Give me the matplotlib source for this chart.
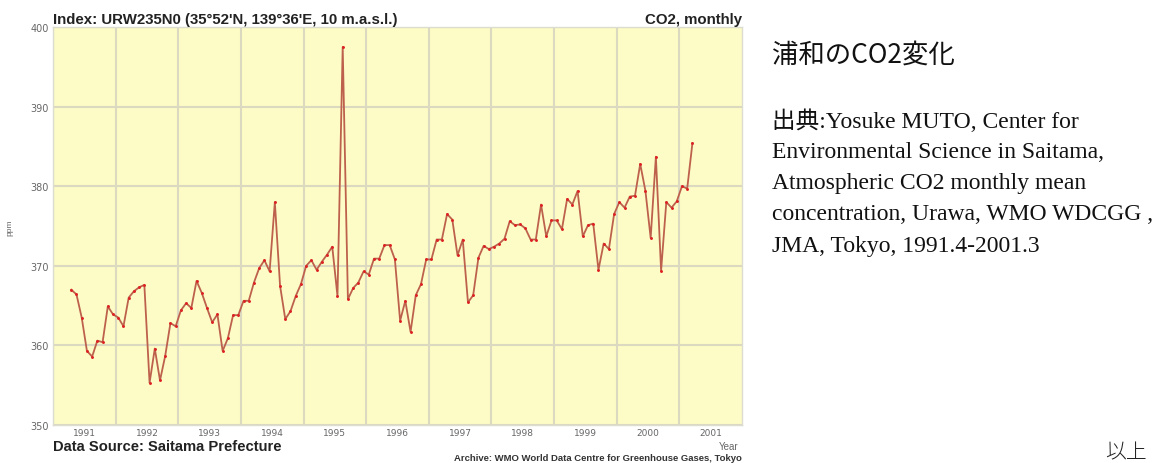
import numpy as np
import pandas as pd
from matplotlib import pyplot as plt
from matplotlib.ticker import FixedLocator, NullFormatter

# monthly CO2 at Urawa, 1991.4 - 2001.3
start_month = '1991-04'
co2_ppm = [
    367.0, 366.4, 363.5, 359.3, 358.6, 360.6, 360.4, 364.9, 363.9,  # 1991
    363.5, 362.4, 366.0, 366.8, 367.3, 367.6, 355.3, 359.6, 355.6, 358.7, 362.8, 362.4,  # 1992
    364.4, 365.3, 364.7, 368.1, 366.6, 364.7, 362.9, 363.9, 359.3, 360.9, 363.8, 363.8,  # 1993
    365.6, 365.6, 367.9, 369.7, 370.7, 369.3, 378.0, 367.5, 363.3, 364.3, 366.2, 367.7,  # 1994
    370.0, 370.7, 369.5, 370.5, 371.4, 372.4, 366.2, 397.5, 365.8, 367.2, 367.9, 369.3,  # 1995
    368.9, 370.9, 370.9, 372.6, 372.6, 370.8, 363.1, 365.6, 361.7, 366.3, 367.7, 370.8,  # 1996
    370.8, 373.3, 373.3, 376.5, 375.8, 371.3, 373.3, 365.4, 366.3, 371.0, 372.5, 372.1,  # 1997
    372.4, 372.8, 373.4, 375.6, 375.1, 375.2, 374.7, 373.3, 373.3, 377.7, 373.7, 375.7,  # 1998
    375.7, 374.6, 378.4, 377.7, 379.4, 373.7, 375.1, 375.3, 369.5, 372.8, 372.1, 376.5,  # 1999
    378.0, 377.3, 378.7, 378.8, 382.8, 379.4, 373.5, 383.7, 369.4, 378.0, 377.3, 378.1,  # 2000
    380.0, 379.7, 385.4,  # 2001
]
years = list(range(1991, 2002))
y_ticks = [350, 360, 370, 380, 390, 400]

months = pd.date_range(start_month, periods=len(co2_ppm), freq='MS')
t = months.year + (months.month - 0.5) / 12

W, H = 1167, 464
fig = plt.figure(figsize=(W / 100, H / 100), dpi=100)
fig.patch.set_facecolor('white')

left, right, top, bottom = 53, 742, 28, 426
ax = fig.add_axes([left / W, 1 - bottom / H, (right - left) / W, (bottom - top) / H])
ax.set_facecolor('#fdfcc6')

ax.plot(t, co2_ppm, color='#bd614d', linewidth=1.3, zorder=3)
ax.plot(t, co2_ppm, linestyle='none', marker='o', markersize=1.1,
        color='#dd2222', zorder=4)

ax.set_xlim(years[0], years[-1] + 1)
ax.set_ylim(y_ticks[0], y_ticks[-1])

ax.xaxis.set_major_locator(FixedLocator(years))
ax.xaxis.set_major_formatter(NullFormatter())
ax.xaxis.set_minor_locator(FixedLocator([y + 0.5 for y in years]))
ax.set_xticklabels([str(y) for y in years], minor=True)
ax.set_yticks(y_ticks)

ax.grid(True, which='major', color='#dbd9c0', linewidth=1.5, zorder=1)
ax.tick_params(which='both', length=0)
ax.tick_params(axis='x', which='minor', labelsize=6.5, labelcolor='#666666', pad=2)
ax.tick_params(axis='y', labelsize=7, labelcolor='#666666', pad=3)
for s in ax.spines.values():
    s.set_color('#dcdcd0')
    s.set_linewidth(1)

sans = ['Liberation Sans', 'DejaVu Sans']
fig.text(left / W, 1 - 20 / H, "Index: URW235N0 (35°52'N, 139°36'E, 10 m.a.s.l.)",
         family=sans, fontsize=10.8, fontweight='bold', color='#222222', va='center')
fig.text(right / W, 1 - 20 / H, 'CO2, monthly', family=sans, fontsize=10.8,
         fontweight='bold', color='#222222', va='center', ha='right')
fig.text(left / W, 1 - 447 / H, 'Data Source: Saitama Prefecture', family=sans,
         fontsize=10.6, fontweight='bold', color='#222222', va='center')
fig.text(738 / W, 1 - 447 / H, 'Year', family=sans, fontsize=7, color='#666666',
         va='center', ha='right')
fig.text(742 / W, 1 - 459 / H, 'Archive: WMO World Data Centre for Greenhouse Gases, Tokyo',
         family=sans, fontsize=6.8, fontweight='bold', color='#333333', va='center', ha='right')
fig.text(10 / W, 1 - 228 / H, 'ppm', family=sans, fontsize=6, color='#666666',
         rotation=90, va='center', ha='center')

# side notes
fig.text(772 / W, 1 - 55 / H, '浦和のCO2変化', family=['Noto Sans CJK JP'],
         fontsize=19, color='#111111', va='center')
note_lines = [
    '出典:Yosuke MUTO, Center for',
    'Environmental Science in Saitama,',
    'Atmospheric CO2 monthly mean',
    'concentration, Urawa, WMO WDCGG ,',
    'JMA, Tokyo, 1991.4-2001.3',
]
for i, line in enumerate(note_lines):
    fig.text(772 / W, 1 - (121 + 31.3 * i) / H, line,
             family=['Liberation Serif', 'Noto Sans CJK JP'],
             fontsize=17, color='#111111', va='center')
fig.text(1105 / W, 1 - 441 / H, '以上', family=['Noto Sans CJK JP'],
         fontsize=15, fontweight='light', color='#222222', va='top')

fig.savefig('out.png', dpi=100)
